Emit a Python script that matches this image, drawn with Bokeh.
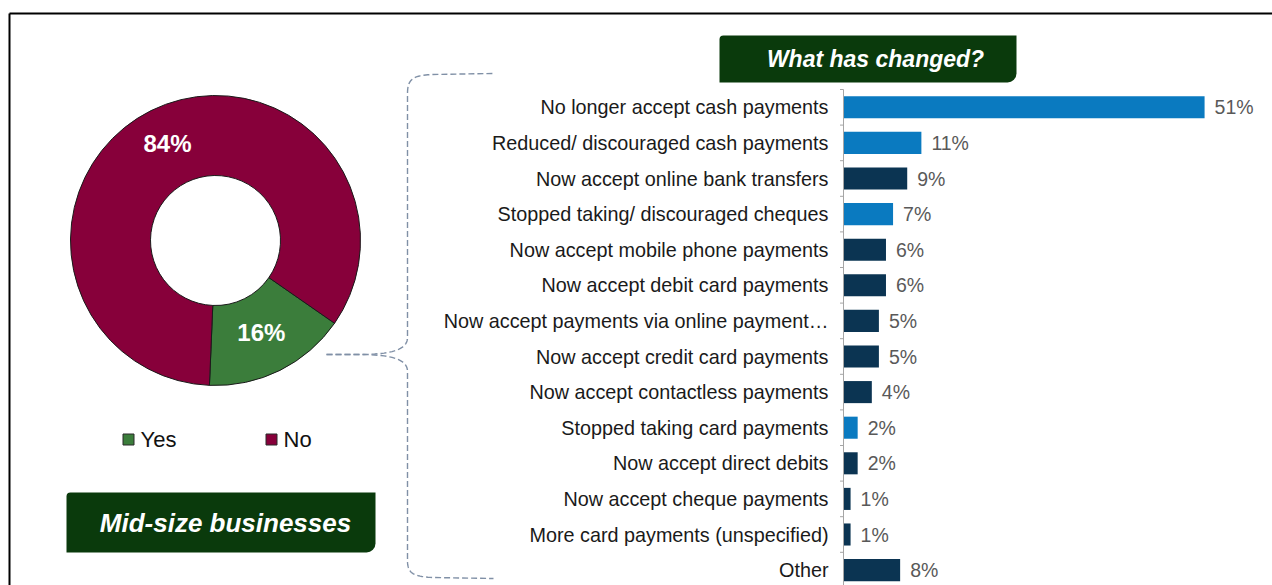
import numpy as np
from bokeh.plotting import figure
from bokeh.models import Range1d, ColumnDataSource
from bokeh.core.properties import value
from bokeh.embed import file_html
from bokeh.resources import INLINE

# ---------------- data ----------------
categories = [
    "No longer accept cash payments",
    "Reduced/ discouraged cash payments",
    "Now accept online bank transfers",
    "Stopped taking/ discouraged cheques",
    "Now accept mobile phone payments",
    "Now accept debit card payments",
    "Now accept payments via online payment\u2026",
    "Now accept credit card payments",
    "Now accept contactless payments",
    "Stopped taking card payments",
    "Now accept direct debits",
    "Now accept cheque payments",
    "More card payments (unspecified)",
    "Other",
]
values = [51, 11, 9, 7, 6, 6, 5, 5, 4, 2, 2, 1, 1, 8]
bar_kind = ["reduce", "reduce", "new", "reduce", "new", "new", "new",
            "new", "new", "reduce", "new", "new", "new", "new"]

donut_labels = ["Yes", "No"]
donut_values = [16, 84]

title_right = "What has changed?"
title_left = "Mid-size businesses"

# ---------------- styles ----------------
FONT = value("Liberation Sans")
KIND_COLOR = {"reduce": "#0A7AC0", "new": "#0B3452"}
DONUT_COLORS = ["#3B7D3B", "#87003A"]
BOX_GREEN = "#0A3A0C"
BRACKET = "#8090A6"

X0, Y0 = 0, 0          # page offset of the figure
W, H = 1272, 585
p = figure(width=W, height=H,
           x_range=Range1d(X0, X0 + W), y_range=Range1d(-(Y0 + H), -Y0),
           output_backend="svg", toolbar_location=None,
           x_axis_location=None, y_axis_location=None, min_border=0)
p.grid.visible = False
p.outline_line_color = None
p.background_fill_color = "white"
p.border_fill_color = "white"

# frame lines (top / left)
p.line(x=[9, 1272], y=[-13, -13], line_color="black", line_width=2)
p.line(x=[9, 9], y=[-13, -585], line_color="black", line_width=2)

# ---------------- donut ----------------
CX, CY, R_IN, R_OUT = 215, -240, 65, 145
first = np.deg2rad(-92.4)
frac = np.array(donut_values, dtype=float) / sum(donut_values)
ends = first + 2 * np.pi * np.cumsum(frac)
starts = ends - 2 * np.pi * frac
dsrc = ColumnDataSource(dict(start=starts, end=ends, color=DONUT_COLORS,
                             label=donut_labels))
p.annular_wedge(x=CX, y=CY, inner_radius=R_IN, outer_radius=R_OUT,
                start_angle="start", end_angle="end", fill_color="color",
                line_color="#1A1A1A", line_width=1, source=dsrc)
mid = (starts + ends) / 2
rl = np.array([103, 108])
p.text(x=CX + rl * np.cos(mid), y=CY + rl * np.sin(mid),
       text=[f"{v}%" for v in donut_values], text_color="white",
       text_font=FONT, text_font_style="bold", text_font_size="24px",
       text_align="center", text_baseline="middle")

# legend
leg_x = [128, 271]
p.rect(x=leg_x, y=[-439, -439], width=11, height=11,
       fill_color=DONUT_COLORS, line_color="#2A2A2A", line_width=1)
p.text(x=[x + 12 for x in leg_x], y=[-439, -439], text=donut_labels,
       text_color="#111111", text_font=FONT, text_font_size="22px",
       text_align="left", text_baseline="middle")

# title boxes
p.quad(left=[66], right=[375], top=[-492], bottom=[-552],
       fill_color=BOX_GREEN, line_color=None, border_radius=(4, 0, 9, 0))
p.text(x=[225], y=[-522], text=[title_left], text_color="white",
       text_font=FONT, text_font_style="bold italic", text_font_size="26px",
       text_align="center", text_baseline="middle")
p.quad(left=[719], right=[1016], top=[-35], bottom=[-82],
       fill_color=BOX_GREEN, line_color=None, border_radius=(4, 0, 9, 0))
p.text(x=[875], y=[-58], text=[title_right], text_color="white",
       text_font=FONT, text_font_style="bold italic", text_font_size="23px",
       text_align="center", text_baseline="middle")

# bracket
def cubic(p0, p1, p2, p3, n=24):
    t = np.linspace(0, 1, n)[:, None]
    P = [np.array(q, dtype=float) for q in (p0, p1, p2, p3)]
    return ((1 - t) ** 3 * P[0] + 3 * (1 - t) ** 2 * t * P[1]
            + 3 * (1 - t) * t ** 2 * P[2] + t ** 3 * P[3])

up = np.vstack([[(326, 354)],
                cubic((356, 354), (386, 354), (407, 351), (407, 337)),
                [(407, 93)],
                cubic((407, 93), (407, 78), (413, 75), (432, 74)),
                [(493, 73)]])
lo = np.vstack([[(326, 354)],
                cubic((356, 354), (386, 354), (407, 357), (407, 371)),
                [(407, 560)],
                cubic((407, 560), (407, 573), (413, 576), (432, 577)),
                [(493, 578)]])
for path in (up, lo):
    p.line(x=path[:, 0], y=-path[:, 1], line_color=BRACKET, line_width=1.4,
           line_dash="6 3")

# ---------------- bar chart (own scales) ----------------
ZERO_PX, PX_PER = 843, 7.08
BAND_TOP, BAND = 89, 35.6
p.extra_x_ranges = {"bar": Range1d((X0 - ZERO_PX) / PX_PER,
                                   (X0 + W - ZERO_PX) / PX_PER)}
p.extra_y_ranges = {"bar": Range1d((Y0 + H - BAND_TOP) / BAND - 0.5,
                                   (Y0 - BAND_TOP) / BAND - 0.5)}
idx = list(range(len(categories)))
bsrc = ColumnDataSource(dict(
    y=idx, v=values, cat=categories,
    lab=[f"{v}%" for v in values],
    color=[KIND_COLOR[k] for k in bar_kind]))
p.hbar(y="y", left=0, right="v", height=0.62, fill_color="color",
       line_color=None, source=bsrc, x_range_name="bar", y_range_name="bar")

# axis line and ticks
n = len(categories)
p.segment(x0=[0], x1=[0], y0=[-0.5], y1=[n], line_color="#A6A6A6",
          line_width=1, x_range_name="bar", y_range_name="bar")
bounds = [i - 0.5 for i in range(n + 1)]
p.segment(x0=[0] * len(bounds), x1=[-3.5 / PX_PER] * len(bounds),
          y0=bounds, y1=bounds, line_color="#A6A6A6", line_width=1,
          x_range_name="bar", y_range_name="bar")

p.text(x=0, y="y", text="cat", source=bsrc, x_offset=-15,
       text_color="#1A1A1A", text_font=FONT, text_font_size="19.8px",
       text_align="right", text_baseline="middle",
       x_range_name="bar", y_range_name="bar")
p.text(x="v", y="y", text="lab", source=bsrc, x_offset=10,
       text_color="#595959", text_font=FONT, text_font_size="19.5px",
       text_align="left", text_baseline="middle",
       x_range_name="bar", y_range_name="bar")

open("out.html", "w").write(file_html(p, INLINE))
